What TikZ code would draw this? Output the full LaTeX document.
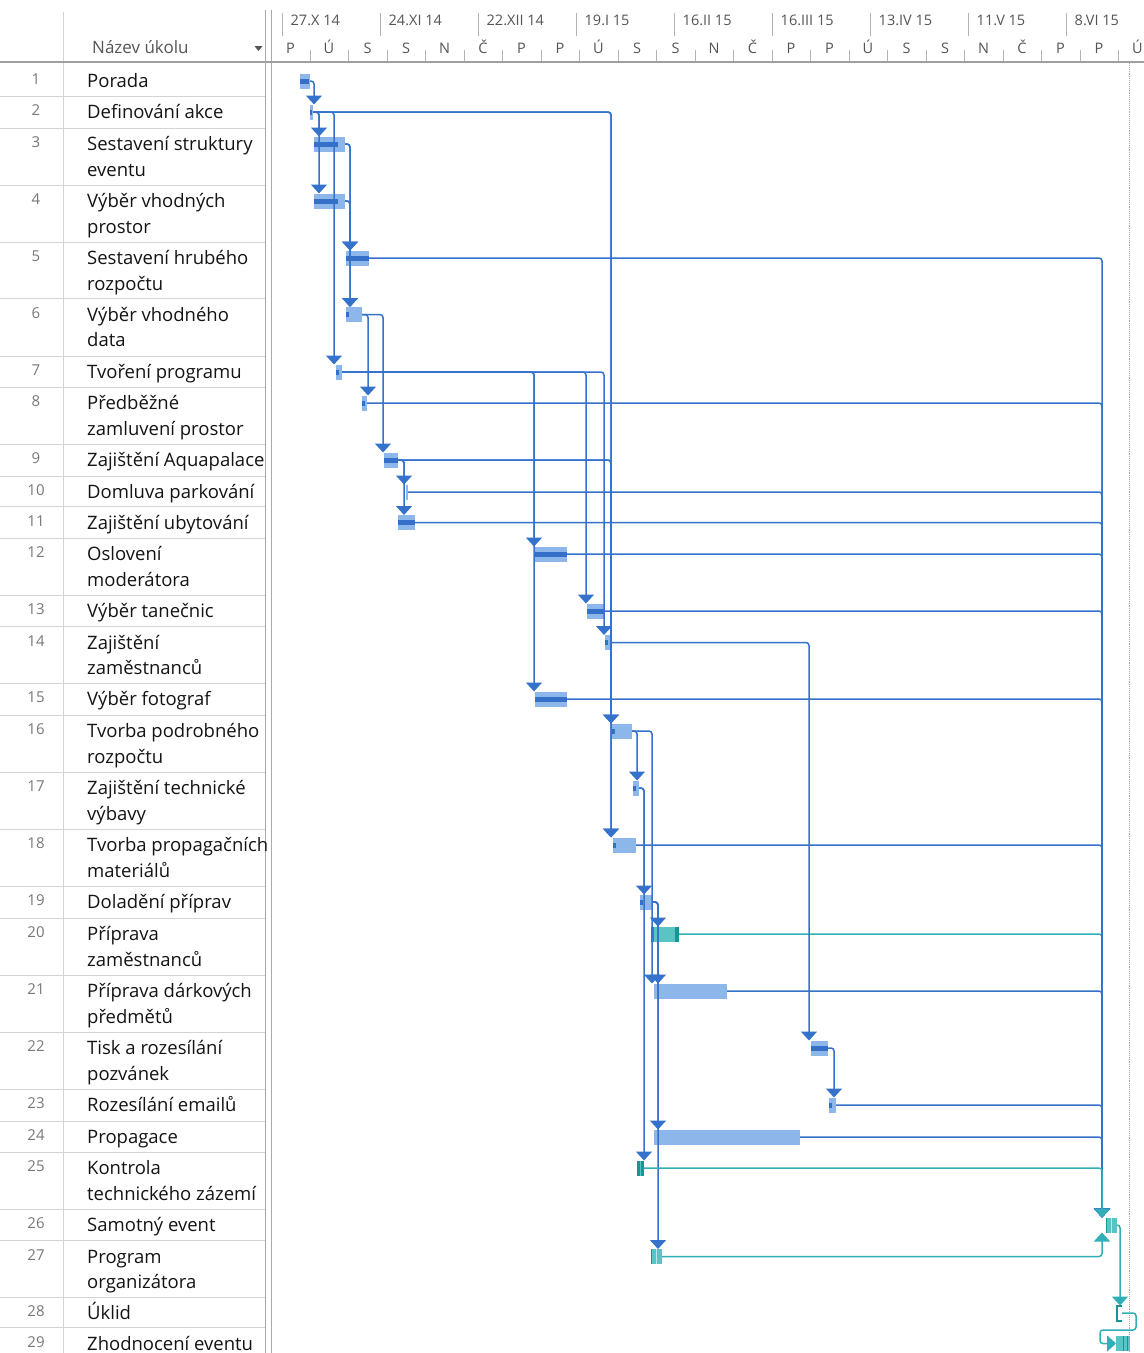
\documentclass[tikz,border=0pt]{standalone}
\usepackage{fontspec}
\setmainfont{Open Sans}
\usetikzlibrary{arrows.meta,calc}
\definecolor{barblue}{RGB}{141,182,234}
\definecolor{progblue}{RGB}{52,112,200}
\definecolor{linkblue}{RGB}{52,114,204}
\definecolor{tealbar}{RGB}{88,196,196}
\definecolor{tealdark}{RGB}{22,150,150}
\definecolor{linkteal}{RGB}{48,176,182}
\definecolor{gridgray}{RGB}{212,212,212}
\definecolor{numgray}{RGB}{120,120,120}
\definecolor{hdrgray}{RGB}{85,85,85}
\definecolor{txt}{RGB}{20,20,20}
\newcommand\gbar[5][]{\node[bar,#1, minimum width={#5-#4}] (b#2) at (#4,-#3) {};}
\newcommand\gprog[2]{\fill[progblue] ([yshift=2.5pt]b#1.west) rectangle ++(#2,-5);}
\newcommand\lnk[4][]{\path (#4,0) coordinate (cx); \draw[link,#1] (b#2.east) -| (b#3.north -| cx);}
\begin{document}
\begin{tikzpicture}[x=1pt,y=1pt,
 bar/.style={fill=barblue, draw=none, minimum height=15pt, inner sep=0pt, outer sep=0pt, anchor=west},
 tbar/.style={fill=tealbar},
 link/.style={draw=linkblue, line width=1.5pt, rounded corners=3pt, -{Triangle[width=16pt 0 0, length=9pt 0 0]}},
 tlink/.style={draw=linkteal},
 task/.style={anchor=west, inner sep=0pt, text height=13pt, text depth=0pt, font=\fontsize{18.5}{22}\selectfont, text=txt},
 num/.style={inner sep=0pt, text height=11pt, text depth=0pt, font=\fontsize{15}{18}\selectfont, text=numgray},
 hdr/.style={inner sep=0pt, font=\fontsize{14.5}{17}\selectfont, text=hdrgray, text height=10.5pt, text depth=0pt},
]
\useasboundingbox (0,0) rectangle (1144,-1353);
\fill[white] (0,0) rectangle (1144,-1353);

% table frame
\draw[gridgray, line width=1pt] (63,-12) -- (63,-1353);
\draw[gridgray!80!black, line width=1pt] (265,-10) -- (265,-1353);
\draw[gridgray!80!black, line width=1pt] (271,-10) -- (271,-1353);
\draw[gridgray!75!black, line width=1.6pt] (0,-62) -- (1144,-62);

% header
\node[hdr, anchor=west, font=\fontsize{17}{20}\selectfont, text height=12pt] (hname) at (92,-47) {Název úkolu};
\fill[hdrgray] (254.5,-46) -- (262.5,-46) -- (258.5,-51) -- cycle;
\foreach \d [count=\k from 0] in {27.X 14,24.XI 14,22.XII 14,19.I 15,16.II 15,16.III 15,13.IV 15,11.V 15,8.VI 15}{
  \node[hdr, anchor=west] (dl\k) at ({290.5+98*\k},-20) {\d};
  \draw[gridgray!85!black] ({282+98*\k},-13) -- ++(0,-23);
}
\foreach \d [count=\k from 0] in {P,Ú,S,S,N,Č,P,P,Ú,S,S,N,Č,P,P,Ú,S,S,N,Č,P,P,Ú}{
  \node[hdr] (dd\k) at ({290.5+38.5*\k},-48) {\d};
}
\foreach \k in {1,...,22}{
  \draw[gridgray!85!black] ({271.5+38.5*\k},-50) -- ++(0,-11);
}

% rows
\foreach \n/\c/\la in {1/81/Porada,2/112/Definování akce,3/144/Sestavení struktury,4/201/Výběr vhodných,5/258/Sestavení hrubého,6/314.5/Výběr vhodného,7/372/Tvoření programu,8/403/Předběžné,9/460/Zajištění Aquapalace,10/492/Domluva parkování,11/522.5/Zajištění ubytování,12/554/Oslovení,13/611/Výběr tanečnic,14/642.5/Zajištění,15/699/Výběr fotograf,16/731/Tvorba podrobného,17/788/Zajištění technické,18/845/Tvorba propagačních,19/902/Doladění příprav,20/934/Příprava,21/991/Příprava dárkových,22/1048/Tisk a rozesílání,23/1105/Rozesílání emailů,24/1137/Propagace,25/1168/Kontrola,26/1225/Samotný event,27/1256.5/Program,28/1313/Úklid,29/1343.5/Zhodnocení eventu}{
  \node[num] (n\n) at (36,{-\c+2}) {\n};
  \node[task] (t\n) at (87,-\c) {\la};
}
\foreach \n/\c/\lb in {3/144/eventu,4/201/prostor,5/258/rozpočtu,6/314.5/data,8/403/zamluvení prostor,12/554/moderátora,14/642.5/zaměstnanců,16/731/rozpočtu,17/788/výbavy,18/845/materiálů,20/934/zaměstnanců,21/991/předmětů,22/1048/pozvánek,25/1168/technického zázemí,27/1256.5/organizátora}{
  \node[task] (u\n) at (87,{-\c-25.5}) {\lb};
}
\foreach \c in {112,144,201,258,314.5,372,403,460,492,522.5,554,611,642.5,699,731,788,845,902,934,991,1048,1105,1137,1168,1225,1256.5,1313,1343.5}{
  \draw[gridgray] (0,{-\c+16}) -- (265,{-\c+16});
}

% status line
\draw[gray!70, densely dotted, line width=0.9pt] (1129,-63) -- (1129,-1353);

% bars
\gbar{1}{81}{300}{310}
\gbar{2}{112}{310}{313}
\gbar{3}{144}{314}{345}
\gbar{4}{201}{314}{345}
\gbar{5}{258}{346}{369}
\gbar{6}{314.5}{346}{362}
\gbar{7}{372}{336}{342}
\gbar{8}{403}{362}{367}
\gbar{9}{460}{384}{398}
\gbar{10}{492}{406}{408}
\gbar{11}{522.5}{398}{415}
\gbar{12}{554}{534}{567}
\gbar{13}{611}{587}{604}
\gbar{14}{642.5}{605}{612}
\gbar{15}{699}{535}{567}
\gbar{16}{731}{612}{632}
\gbar{17}{788}{633}{639}
\gbar{18}{845}{613}{636}
\gbar{19}{902}{640}{653}
\gbar[tbar]{20}{934}{651}{679}
\gbar{21}{991}{654}{727}
\gbar{22}{1048}{811}{828}
\gbar{23}{1105}{829}{836}
\gbar{24}{1137}{654}{800}
\gbar[tbar]{25}{1168}{637}{644}
\gbar[tbar]{26}{1225}{1106}{1117}
\gbar[tbar]{27}{1256.5}{651}{662}
\gbar[fill=none]{28}{1313}{1116}{1122}
\gbar[tbar]{29}{1343.5}{1116}{1130}

% progress / bar details
\gprog{1}{9}
\gprog{2}{2}
\gprog{3}{24}
\gprog{4}{24}
\gprog{5}{23}
\gprog{6}{2.5}
\gprog{7}{2.5}
\gprog{8}{2.5}
\gprog{9}{14}
\gprog{11}{17}
\gprog{12}{33}
\gprog{13}{17}
\gprog{14}{2.5}
\gprog{15}{32}
\gprog{16}{2.5}
\gprog{17}{2.5}
\gprog{18}{2.5}
\gprog{19}{2.5}
\gprog{22}{17}
\gprog{23}{2.5}
\fill[tealdark] (b20.north west) rectangle ++(3,-15);
\fill[tealdark] (b20.north east) rectangle ++(-4,-15);
\fill[tealdark] (b25.north west) rectangle (b25.south east);
\draw[tealbar, line width=1pt] (b25.north) -- (b25.south);
\draw[tealdark, line width=1.2pt] ([xshift=0.6pt]b26.north west) -- ([xshift=0.6pt]b26.south west);
\draw[white!60!tealbar, line width=1.2pt] (b26.north) -- (b26.south);
\draw[tealdark, line width=1.2pt] ([xshift=0.6pt]b27.north west) -- ([xshift=0.6pt]b27.south west);
\draw[white!60!tealbar, line width=1.2pt] (b27.north) -- (b27.south);
\draw[tealdark, line width=1pt] ([xshift=7pt]b29.north west) -- ([xshift=7pt]b29.south west);
\draw[tealdark, line width=1pt] ([xshift=11pt]b29.north west) -- ([xshift=11pt]b29.south west);
\draw[tealdark, line width=2pt] ([xshift=6pt]b28.north west) -- ([xshift=1pt]b28.north west) -- ([xshift=1pt]b28.south west) -- ([xshift=6pt]b28.south west);

% links
\lnk[tlink]{20}{26}{1102}
\lnk{1}{2}{314}
\lnk{2}{3}{319}
\lnk{2}{4}{319}
\lnk{2}{7}{334}
\lnk{2}{16}{611}
\lnk{2}{18}{611}
\lnk{3}{5}{350}
\lnk{3}{6}{350}
\lnk{4}{5}{350}
\lnk{4}{6}{350}
\lnk{6}{8}{368}
\lnk{6}{9}{383}
\lnk{7}{12}{534}
\lnk{7}{15}{534}
\lnk{7}{13}{586}
\lnk{7}{14}{604}
\lnk{9}{10}{404}
\lnk{9}{11}{404}
\lnk{9}{16}{611}
\lnk{9}{18}{611}
\lnk{14}{22}{809}
\lnk{16}{17}{637}
\lnk{16}{21}{652}
\lnk{17}{19}{644}
\lnk{17}{25}{644}
\lnk{19}{20}{658}
\lnk{19}{21}{658}
\lnk{19}{24}{658}
\lnk{19}{27}{658}
\lnk{22}{23}{834}
\foreach \p in {5,8,10,11,12,13,15,18,21,23,24}{\lnk{\p}{26}{1102}}
\lnk[tlink]{25}{26}{1102}
\path (1102,0) coordinate (cy);
\draw[link,tlink] (b27.east) -| (b26.south -| cy);
\path (1120,0) coordinate (cz);
\draw[link,tlink] (b26.east) -| (b28.north -| cz);
\draw[link,tlink] (b28.east) -| ($(b28.east)+(14,-17)$) -| ($(b29.west)+(-16,0)$) -- (b29.west);
\end{tikzpicture}
\end{document}
